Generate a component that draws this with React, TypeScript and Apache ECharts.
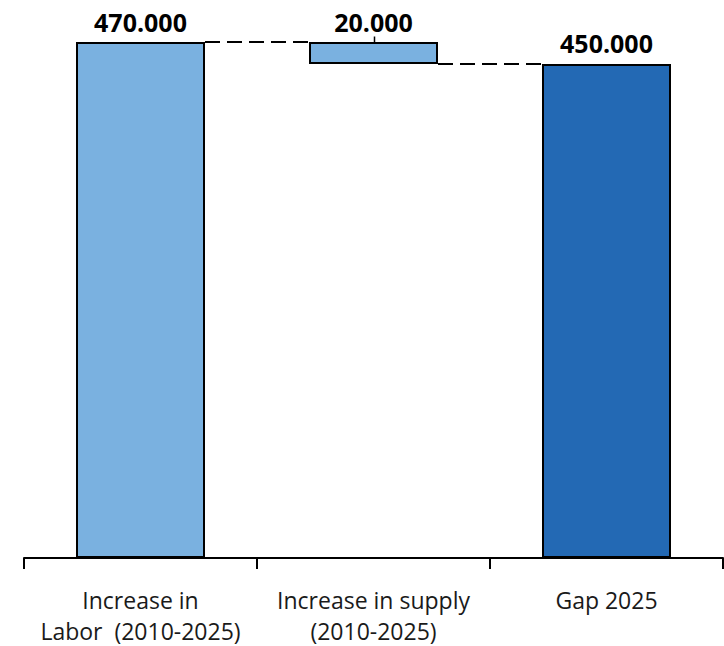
import React, { useEffect, useRef } from "react";
import * as echarts from "echarts";

const categories = [
  "Increase in\nLabor  (2010-2025)",
  "Increase in supply\n(2010-2025)",
  "Gap 2025",
];
const baseValues = [0, 450, 0];
const barValues = [470, 20, 450];
const connectors = [
  [0, 470],
  [1, 450],
];
const tickMark = [[1, 475, 460]];

const LIGHT = "#7AB1E0";
const DARK = "#2369B4";
const BAR_W = 129;

function fmt(v: number): string {
  const n = Math.round(v * 1000);
  return n.toString().replace(/\B(?=(\d{3})+(?!\d))/g, ".");
}

export default function App() {
  const ref = useRef<HTMLDivElement>(null);
  useEffect(() => {
    if (!ref.current) return;
    const chart = echarts.init(ref.current, null, { renderer: "svg" });
    const colors = [LIGHT, LIGHT, DARK];
    chart.setOption({
      animation: false,
      grid: { left: 24, right: 1, top: 42, bottom: 86 },
      xAxis: {
        type: "category",
        data: categories,
        boundaryGap: true,
        axisLine: { lineStyle: { color: "#000", width: 2 } },
        axisTick: { show: true, length: 11, lineStyle: { color: "#000", width: 2 } },
        axisLabel: {
          interval: 0,
          margin: 26,
          color: "#1a1a1a",
          fontFamily: "Open Sans",
          fontSize: 23,
          lineHeight: 31,
        },
      },
      yAxis: { type: "value", min: 0, max: 470, show: false, splitLine: { show: false } },
      series: [
        {
          type: "bar",
          stack: "w",
          data: baseValues,
          barWidth: BAR_W,
          itemStyle: { color: "transparent" },
          silent: true,
        },
        {
          type: "bar",
          stack: "w",
          barWidth: BAR_W,
          data: barValues.map((v, i) => ({
            value: v,
            itemStyle: { color: colors[i], borderColor: "#000", borderWidth: 2 },
          })),
          label: {
            show: true,
            position: "top",
            distance: 8,
            color: "#000",
            fontFamily: "Open Sans",
            fontWeight: "bold",
            fontSize: 25,
            formatter: (p: any) => fmt(p.value),
          },
        },
        {
          type: "custom",
          silent: true,
          data: connectors,
          renderItem: (params: any, api: any) => {
            const i = api.value(0);
            const v = api.value(1);
            const p1 = api.coord([i, v]);
            const p2 = api.coord([i + 1, v]);
            return {
              type: "line",
              shape: { x1: p1[0] + BAR_W / 2, y1: p1[1], x2: p2[0] - BAR_W / 2, y2: p2[1] },
              style: { stroke: "#000", lineWidth: 2, lineDash: [15, 7] },
            };
          },
        },
        {
          type: "custom",
          silent: true,
          data: tickMark,
          renderItem: (params: any, api: any) => {
            const i = api.value(0);
            const a = api.coord([i, api.value(1)]);
            const b = api.coord([i, api.value(2)]);
            return {
              type: "line",
              shape: { x1: a[0] + 1, y1: a[1], x2: b[0] + 1, y2: b[1] },
              style: { stroke: "#000", lineWidth: 1.5 },
            };
          },
        },
      ],
    });
    return () => chart.dispose();
  }, []);
  return (
    <div
      ref={ref}
      style={{ position: "fixed", left: 0, top: 0, width: 724, height: 646, background: "#fff" }}
    />
  );
}
